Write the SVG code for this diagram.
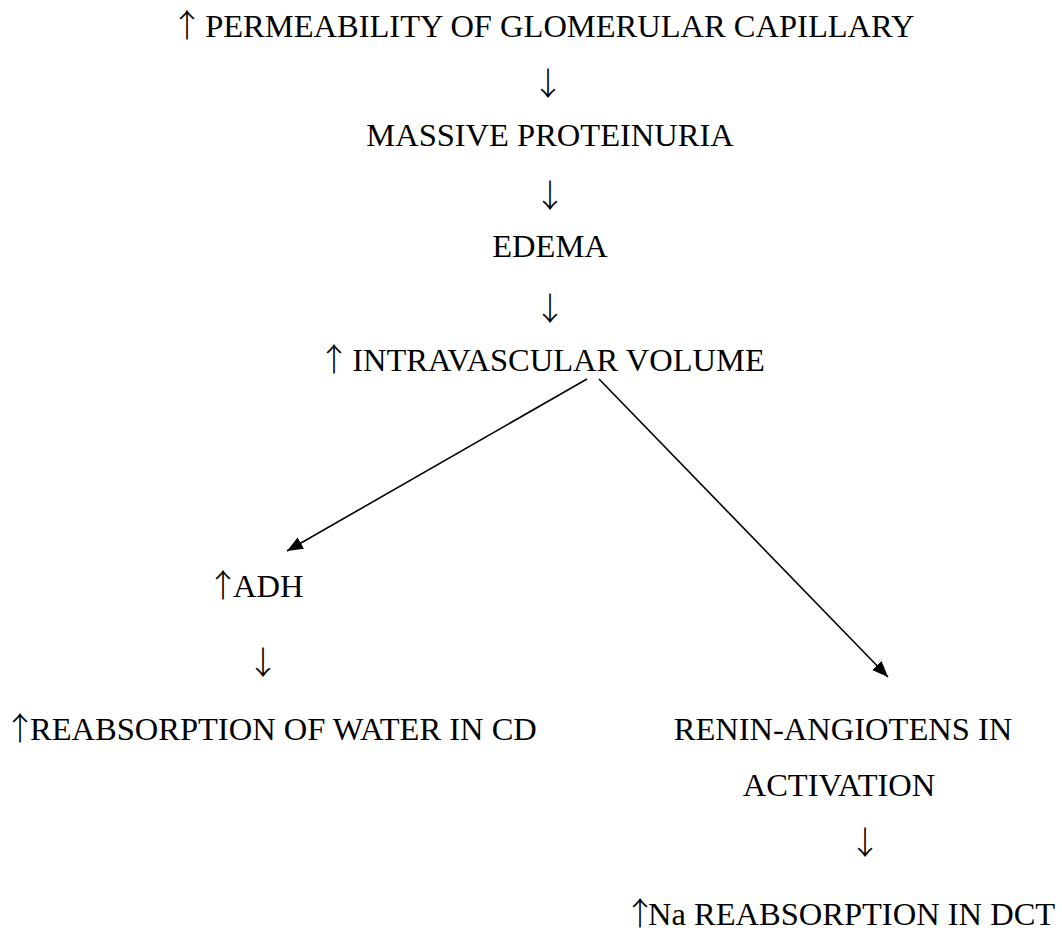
<svg xmlns="http://www.w3.org/2000/svg" width="1062" height="939" viewBox="0 0 1062 939">
<style>
text{font-family:"Liberation Serif","Times New Roman",serif;font-size:32.5px;fill:#000}
.c{text-anchor:middle}
.ar{font-family:"Noto Sans CJK JP","Noto Sans CJK SC",sans-serif;font-size:32px;font-weight:300}
.ai{letter-spacing:-6px}
.conn line{stroke:#000;stroke-width:1.6;fill:none}
</style>
<defs>
<marker id="ah" markerUnits="userSpaceOnUse" markerWidth="18" markerHeight="14" refX="16" refY="6.5" orient="auto">
<path d="M0,0 L16,6.5 L0,13 z" fill="#000"/>
</marker>
</defs>
<rect width="1062" height="939" fill="#fff"/>
<g id="n1"><text x="171" y="37"><tspan class="ar ai">↑</tspan> PERMEABILITY OF GLOMERULAR CAPILLARY</text></g>
<g id="a1"><text class="ar c" x="548" y="95">↓</text></g>
<g id="n2"><text class="c" x="550" y="146">MASSIVE PROTEINURIA</text></g>
<g id="a2"><text class="ar c" x="550" y="207">↓</text></g>
<g id="n3"><text class="c" x="550" y="257">EDEMA</text></g>
<g id="a3"><text class="ar c" x="550" y="320">↓</text></g>
<g id="n4"><text x="318" y="371"><tspan class="ar ai">↑</tspan> INTRAVASCULAR VOLUME</text></g>
<g id="n5"><text x="207" y="597"><tspan class="ar ai">↑</tspan>ADH</text></g>
<g id="a4"><text class="ar c" x="263" y="674">↓</text></g>
<g id="n6"><text x="4" y="740"><tspan class="ar ai">↑</tspan>REABSORPTION OF WATER IN CD</text></g>
<g id="n7"><text class="c" x="843" y="740">RENIN-ANGIOTENS IN</text><text class="c" x="839" y="796">ACTIVATION</text></g>
<g id="a5"><text class="ar c" x="865" y="854">↓</text></g>
<g id="n8"><text x="624" y="925"><tspan class="ar" style="letter-spacing:-8px">↑</tspan>Na REABSORPTION IN DCT</text></g>
<g id="connectors" class="conn">
<line x1="587" y1="379" x2="287" y2="551" marker-end="url(#ah)"/>
<line x1="599" y1="379" x2="888" y2="677" marker-end="url(#ah)"/>
</g>
</svg>
